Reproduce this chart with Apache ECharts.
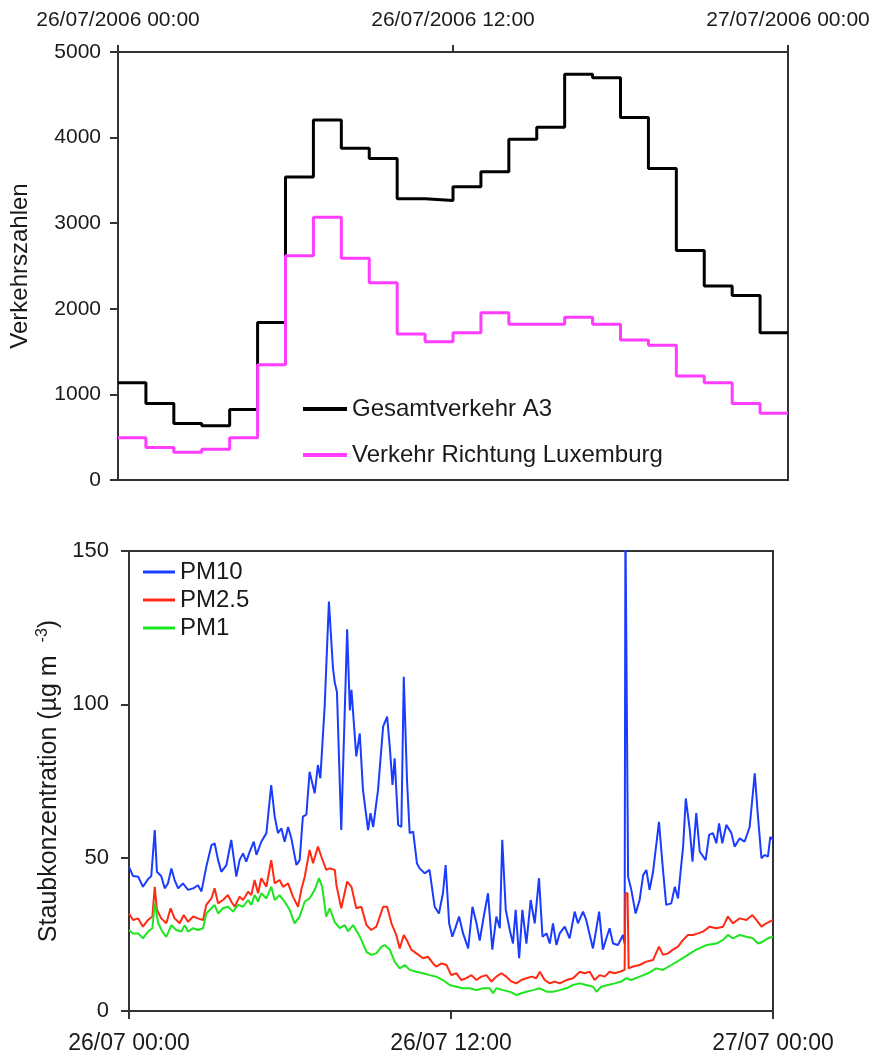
<!DOCTYPE html>
<html>
<head>
<meta charset="utf-8">
<title>Verkehr und Staub</title>
<script src="https://cdn.jsdelivr.net/npm/echarts@6/dist/echarts.min.js"></script>
<style>
  html, body { margin: 0; padding: 0; background: #fff; }
  #myChart { width: 876px; height: 1062px; }
</style>
</head>
<body>
<div id="myChart"></div>
<script>
// Verkehrszahlen, stundenweise (Beginn der Stunde)
const trafficHours = [0, 1, 2, 3, 4, 5, 6, 7, 8, 9, 10, 11, 12, 13, 14, 15, 16, 17, 18, 19, 20, 21, 22, 23]
const gesamtA3 = [1135, 895, 660, 635, 825, 1840, 3540, 4205, 3875, 3755, 3285, 3265, 3425, 3600, 3980, 4120, 4740, 4700, 4235, 3640, 2680, 2265, 2155, 1720]
const richtungLux = [495, 380, 325, 360, 495, 1345, 2620, 3070, 2590, 2305, 1705, 1615, 1720, 1955, 1820, 1820, 1900, 1820, 1635, 1575, 1215, 1135, 895, 780]
const topTickLabels = ['26/07/2006 00:00', '26/07/2006 12:00', '27/07/2006 00:00']

// Staubkonzentration, Zeit in Stunden ab 26/07 00:00
const pm10Hours = [0, 0.15, 0.34, 0.52, 0.71, 0.83, 0.96, 1.04, 1.2, 1.33, 1.45, 1.58, 1.7, 1.83, 2.01, 2.2, 2.39, 2.57, 2.7, 2.88,
  3.07, 3.19, 3.32, 3.44, 3.63, 3.81, 4.0, 4.12, 4.25, 4.37, 4.5, 4.65, 4.75, 4.93, 5.12, 5.3, 5.43, 5.55, 5.68, 5.8,
  5.93, 6.05, 6.24, 6.36, 6.48, 6.61, 6.73, 6.92, 7.04, 7.13, 7.29, 7.45, 7.6, 7.67, 7.75, 7.91, 8.13, 8.23, 8.29, 8.47,
  8.6, 8.72, 8.91, 9.0, 9.1, 9.28, 9.47, 9.62, 9.72, 9.82, 9.9, 10.03, 10.15, 10.24, 10.36, 10.46, 10.59, 10.73, 10.83, 11.02,
  11.2, 11.39, 11.55, 11.7, 11.8, 11.93, 12.05, 12.18, 12.3, 12.45, 12.64, 12.8, 12.95, 13.07, 13.22, 13.38, 13.54, 13.69, 13.82, 13.91,
  14.04, 14.19, 14.31, 14.41, 14.54, 14.66, 14.81, 14.97, 15.12, 15.28, 15.41, 15.56, 15.68, 15.8, 15.93, 16.05, 16.24, 16.42, 16.61, 16.73,
  16.92, 17.04, 17.17, 17.29, 17.42, 17.52, 17.66, 17.79, 17.91, 18.04, 18.22, 18.41, 18.47, 18.5, 18.57, 18.6, 18.72, 18.88, 19.03, 19.16,
  19.28, 19.4, 19.53, 19.75, 19.9, 20.02, 20.21, 20.34, 20.46, 20.55, 20.65, 20.75, 20.9, 21.0, 21.14, 21.27, 21.49, 21.62, 21.76, 21.89,
  21.99, 22.11, 22.26, 22.45, 22.57, 22.76, 22.94, 23.13, 23.32, 23.44, 23.57, 23.69, 23.81, 23.9, 24.0]
const pm10 = [47, 44, 43.8, 40.5, 43, 44, 59, 45.4, 44, 40, 41.6, 46.5, 42.7, 40, 41.6, 39.5, 40, 41, 39, 47,
  54, 54.7, 49.2, 45.4, 47.6, 55.8, 43.8, 49.2, 51.4, 48.7, 52, 55.2, 50.9, 55.2, 58, 73.7, 63.4, 58, 59.6, 55.2,
  60, 56.3, 47.6, 49.2, 63.4, 64, 78, 71, 80.2, 75.9, 99, 133.5, 112, 107, 104, 59, 124.5, 98, 104.7, 83,
  90.5, 72, 59, 64.5, 60, 72, 92.7, 96, 86, 73.7, 82.4, 60.7, 60, 109, 75.3, 58, 58.5, 48.2, 46.5, 44.9,
  46, 34, 31.8, 38.4, 47.6, 28.6, 24.2, 27.5, 30.8, 25.3, 20.4, 34, 28.6, 23, 30.8, 38.4, 20, 30.8, 27, 55.8,
  33, 26.4, 22, 33, 17.2, 33, 22, 36.2, 28.6, 43.3, 24.2, 25.3, 22, 28.6, 21.5, 25.3, 27.5, 23.7, 32.4, 28.6,
  32.4, 29.7, 24.8, 20.4, 27, 32.4, 20, 23.7, 27, 22, 21.5, 24.8, 22, 160, 160, 43.8, 39.5, 31.8, 36.2, 44.3,
  46, 39.5, 45.4, 61.7, 46, 34.6, 35.1, 40.5, 36.7, 44.9, 53.6, 69.3, 59, 48.7, 64.5, 52, 49.2, 57.4, 58, 54.7,
  61.2, 54.7, 60.7, 58, 53.6, 56.3, 55.2, 60, 77.5, 63.4, 49.8, 50.9, 50.3, 56.8, 55.8]

const pm25Hours = [0, 0.15, 0.34, 0.52, 0.71, 0.87, 0.96, 1.04, 1.2, 1.39, 1.55, 1.7, 1.89, 2.04, 2.2, 2.39, 2.57, 2.76, 2.88, 3.07,
  3.19, 3.32, 3.5, 3.69, 3.81, 3.94, 4.12, 4.25, 4.44, 4.56, 4.68, 4.81, 4.93, 5.12, 5.3, 5.43, 5.61, 5.74, 5.93, 6.11,
  6.3, 6.42, 6.55, 6.73, 6.86, 7.04, 7.17, 7.35, 7.48, 7.67, 7.73, 7.91, 8.13, 8.29, 8.47, 8.66, 8.85, 9.03, 9.22, 9.47,
  9.62, 9.78, 9.96, 10.09, 10.24, 10.36, 10.52, 10.71, 10.96, 11.14, 11.33, 11.45, 11.64, 11.83, 12.01, 12.2, 12.39, 12.57, 12.76, 12.95,
  13.13, 13.32, 13.51, 13.69, 13.88, 14.06, 14.25, 14.44, 14.62, 14.81, 15.0, 15.18, 15.31, 15.49, 15.68, 15.87, 16.05, 16.3, 16.55, 16.8,
  16.98, 17.17, 17.35, 17.54, 17.73, 17.91, 18.1, 18.29, 18.47, 18.5, 18.58, 18.62, 18.78, 19.03, 19.28, 19.53, 19.75, 19.9, 20.09, 20.27,
  20.46, 20.65, 20.83, 21.02, 21.2, 21.39, 21.64, 21.89, 22.14, 22.32, 22.51, 22.76, 23.01, 23.23, 23.38, 23.57, 23.75, 24.0]
const pm25 = [31.8, 29.7, 30.2, 27.5, 29.7, 30.8, 40.5, 33, 30.2, 28.6, 33.5, 30.2, 28.6, 31.3, 29.1, 30.8, 30.2, 29.7, 34.6, 36.7,
  40, 35.1, 36.2, 37.8, 35.7, 34, 37.3, 36.2, 38.9, 37.8, 42.7, 38.4, 43.3, 40.5, 49.2, 41.6, 42.7, 40.5, 41.6, 37.3,
  34, 39.5, 43.8, 52.5, 48.2, 53.6, 50.3, 46, 46.5, 46, 41, 33.5, 42.2, 40.5, 33.5, 34, 28, 26.4, 27.5, 34,
  34, 28.6, 24.8, 20.4, 24.8, 23, 20, 18.8, 17.2, 17.7, 15.5, 14.5, 15.5, 15, 11.7, 12.3, 10.1, 10.7, 11.7, 10.1,
  11.2, 11.7, 9.6, 11.2, 12.3, 11.2, 9.6, 9, 10.1, 10.7, 11.2, 10.7, 12.8, 10.1, 9, 9.6, 9, 10.1, 10.7, 12.8,
  12.3, 12.8, 10.1, 11.7, 11.2, 12.8, 12.3, 12.8, 13.4, 38.4, 38.4, 13.9, 14.5, 15, 16.1, 16.6, 21, 18.3, 18.8, 20,
  21, 23.2, 24.8, 24.8, 25.3, 25.9, 27.5, 27, 27.5, 30.8, 28.6, 30.2, 29.7, 31.3, 29.7, 27.5, 28.6, 29.7]

const pm1Hours = [0, 0.15, 0.34, 0.52, 0.71, 0.87, 0.96, 1.09, 1.24, 1.39, 1.58, 1.76, 1.95, 2.08, 2.2, 2.39, 2.57, 2.76, 2.88, 3.07,
  3.19, 3.32, 3.5, 3.69, 3.88, 4.06, 4.25, 4.44, 4.56, 4.68, 4.81, 4.93, 5.12, 5.3, 5.43, 5.61, 5.8, 5.99, 6.17, 6.36,
  6.55, 6.73, 6.92, 7.08, 7.2, 7.35, 7.48, 7.67, 7.85, 8.04, 8.16, 8.35, 8.54, 8.66, 8.85, 9.03, 9.22, 9.41, 9.53, 9.72,
  9.9, 10.09, 10.28, 10.46, 10.71, 10.96, 11.2, 11.45, 11.7, 11.95, 12.2, 12.45, 12.7, 12.95, 13.19, 13.44, 13.57, 13.69, 13.94, 14.19,
  14.44, 14.62, 14.81, 15.06, 15.31, 15.56, 15.8, 16.05, 16.3, 16.55, 16.8, 17.04, 17.29, 17.42, 17.6, 17.85, 18.1, 18.35, 18.53, 18.72,
  19.03, 19.34, 19.65, 19.9, 20.21, 20.52, 20.83, 21.14, 21.52, 21.89, 22.14, 22.32, 22.51, 22.76, 23.01, 23.25, 23.44, 23.62, 23.81, 24.0]
const pm1 = [26.4, 25.3, 25.3, 23.7, 25.9, 27, 35.1, 28.6, 25.9, 24.2, 28, 26.4, 25.9, 28, 25.9, 27, 26.4, 27, 31.8, 33.5,
  34.6, 31.8, 33.5, 34, 32.4, 34.6, 34, 36.2, 34.6, 37.8, 35.7, 38.4, 36.7, 40.5, 36.2, 37.8, 35.7, 32.9, 28.6, 30.8,
  35.7, 36.7, 39.5, 43.3, 40.5, 30.8, 33.5, 29, 27, 28, 26, 28, 25.3, 23.2, 19.3, 18.3, 18.8, 21, 21.5, 20,
  16.1, 13.9, 15, 13.4, 12.8, 12.3, 11.7, 11.2, 10.1, 8.5, 7.9, 7.4, 7.4, 6.8, 7.4, 7.4, 5.8, 7.4, 6.8, 6.3,
  5.2, 5.8, 6.3, 6.8, 7.4, 6.3, 6.3, 6.8, 7.4, 8.5, 9, 8.5, 7.9, 6.3, 7.9, 8.5, 9, 9.6, 10.7, 10.1,
  11.2, 12.3, 13.9, 13.4, 15, 16.6, 18.3, 20, 21.5, 22, 23.2, 24.8, 23.7, 24.8, 24.2, 23.7, 22, 22.6, 23.7, 24.2]
const bottomTickLabels = ['26/07 00:00', '26/07 12:00', '27/07 00:00']

const chart = echarts.init(document.getElementById('myChart'))

// Stufen: jeder Wert gilt fuer eine ganze Stunde
function stepData(values) {
  const data = values.map((v, i) => [trafficHours[i], v])
  data.push([trafficHours[trafficHours.length - 1] + 1, values[values.length - 1]])
  return data
}
function pairs(hours, values) {
  return values.map((v, i) => [hours[i], v])
}

const axisColor = '#333'
const textColor = '#1a1a1a'
const font = 'Liberation Sans, Arial, sans-serif'

const option = {
  animation: false,
  textStyle: { fontFamily: font },
  grid: [
    { left: 117, top: 52, width: 671, height: 428, show: true, borderColor: axisColor, borderWidth: 2, backgroundColor: 'transparent' },
    { left: 129, top: 551, width: 644, height: 460, show: true, borderColor: axisColor, borderWidth: 2, backgroundColor: 'transparent' }
  ],
  legend: [
    {
      data: ['Gesamtverkehr A3', 'Verkehr Richtung Luxemburg'],
      orient: 'vertical', left: 303, top: 397, padding: 0,
      icon: 'rect', itemWidth: 44, itemHeight: 4, itemGap: 22,
      textStyle: { fontSize: 24, color: textColor, fontFamily: font }
    },
    {
      data: ['PM10', 'PM2.5', 'PM1'],
      orient: 'vertical', left: 143, top: 560, padding: 0,
      icon: 'rect', itemWidth: 32, itemHeight: 3, itemGap: 4,
      textStyle: { fontSize: 24, color: textColor, fontFamily: font }
    }
  ],
  xAxis: [
    {
      gridIndex: 0, type: 'value', position: 'top', min: 0, max: 24, interval: 12,
      axisLine: { onZero: false, lineStyle: { color: axisColor, width: 2 } },
      axisTick: { length: 7, lineStyle: { color: axisColor, width: 2 } },
      axisLabel: { margin: 21, fontSize: 21, color: textColor, formatter: v => topTickLabels[v / 12] },
      splitLine: { show: false }
    },
    {
      gridIndex: 1, type: 'value', position: 'bottom', min: 0, max: 24, interval: 12,
      axisLine: { onZero: false, lineStyle: { color: axisColor, width: 2 } },
      axisTick: { length: 8, lineStyle: { color: axisColor, width: 2 } },
      axisLabel: { margin: 21, fontSize: 23, color: textColor, formatter: v => bottomTickLabels[v / 12] },
      splitLine: { show: false }
    }
  ],
  yAxis: [
    {
      gridIndex: 0, type: 'value', min: 0, max: 5000, interval: 1000,
      name: 'Verkehrszahlen', nameLocation: 'middle', nameGap: 86,
      nameTextStyle: { fontSize: 24, color: textColor },
      axisLine: { show: true, lineStyle: { color: axisColor, width: 2 } },
      axisTick: { show: true, length: 8, lineStyle: { color: axisColor, width: 2 } },
      axisLabel: { margin: 17, fontSize: 21, color: textColor, formatter: v => String(v) },
      splitLine: { show: false }
    },
    {
      gridIndex: 1, type: 'value', min: 0, max: 150, interval: 50,
      name: '{a|Staubkonzentration (µg m }{sup|-3}{a|)}', nameLocation: 'middle', nameGap: 66,
      nameTextStyle: {
        rich: {
          a: { fontSize: 25, color: textColor, fontFamily: font, lineHeight: 28 },
          sup: { fontSize: 16, color: textColor, fontFamily: font, verticalAlign: 'top', padding: [0, 0, 0, 6] }
        }
      },
      axisLine: { show: true, lineStyle: { color: axisColor, width: 2 } },
      axisTick: { show: true, length: 8, lineStyle: { color: axisColor, width: 2 } },
      axisLabel: { margin: 20, fontSize: 22, color: textColor, formatter: v => String(v) },
      splitLine: { show: false }
    }
  ],
  series: [
    {
      name: 'Gesamtverkehr A3', type: 'line', step: 'end', xAxisIndex: 0, yAxisIndex: 0,
      symbol: 'none', color: '#000', lineStyle: { width: 3 }, data: stepData(gesamtA3)
    },
    {
      name: 'Verkehr Richtung Luxemburg', type: 'line', step: 'end', xAxisIndex: 0, yAxisIndex: 0,
      symbol: 'none', color: '#ff3cff', lineStyle: { width: 3 }, data: stepData(richtungLux)
    },
    {
      name: 'PM10', type: 'line', xAxisIndex: 1, yAxisIndex: 1, clip: true,
      symbol: 'none', color: '#1a3cff', lineStyle: { width: 2 }, data: pairs(pm10Hours, pm10)
    },
    {
      name: 'PM2.5', type: 'line', xAxisIndex: 1, yAxisIndex: 1, clip: true,
      symbol: 'none', color: '#ff2a14', lineStyle: { width: 2 }, data: pairs(pm25Hours, pm25)
    },
    {
      name: 'PM1', type: 'line', xAxisIndex: 1, yAxisIndex: 1, clip: true,
      symbol: 'none', color: '#1ee61e', lineStyle: { width: 2 }, data: pairs(pm1Hours, pm1)
    }
  ]
}
chart.setOption(option)
</script>
</body>
</html>
